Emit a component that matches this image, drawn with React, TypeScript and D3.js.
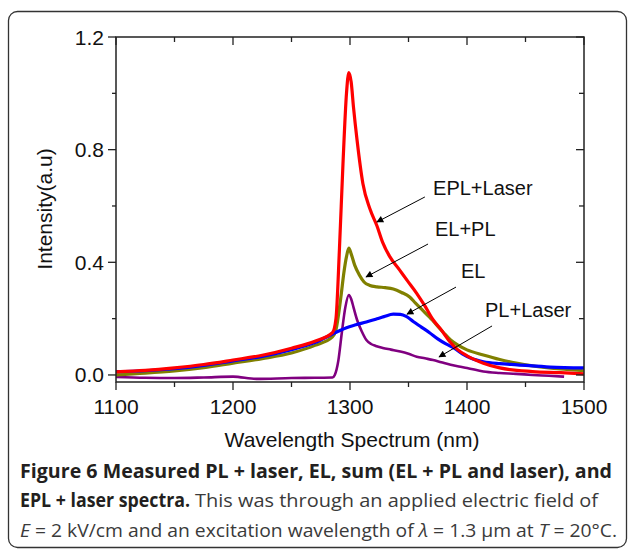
import React from "react";
import * as d3 from "d3";

// ---- Data ----
const xTicksMajor = [1100, 1200, 1300, 1400, 1500];
const xTicksMinor = [1150, 1250, 1350, 1450];
const yTicksMajor = [0, 0.4, 0.8, 1.2];
const yTicksMinor = [0.2, 0.6, 1.0];

const eplWl = [1100, 1125, 1150, 1175, 1200, 1225, 1250, 1270, 1285, 1288, 1291, 1294, 1297, 1299, 1301, 1303, 1306, 1311, 1317, 1323, 1328, 1334, 1342, 1349, 1357, 1364, 1371, 1378, 1385, 1392, 1400, 1414, 1428, 1456, 1480, 1500];
const eplVal = [0.011, 0.016, 0.025, 0.037, 0.053, 0.07, 0.095, 0.12, 0.15, 0.2, 0.45, 0.75, 1.0, 1.074, 1.04, 0.95, 0.835, 0.68, 0.59, 0.53, 0.47, 0.42, 0.375, 0.335, 0.29, 0.245, 0.196, 0.16, 0.12, 0.09, 0.068, 0.042, 0.025, 0.012, 0.008, 0.004];

const elplWl = [1100, 1125, 1150, 1175, 1200, 1225, 1250, 1270, 1285, 1288, 1292, 1295, 1297, 1299, 1301, 1304, 1308, 1312, 1317, 1323, 1330, 1337, 1344, 1351, 1356, 1362, 1368, 1374, 1380, 1386, 1393, 1400, 1414, 1428, 1442, 1456, 1470, 1485, 1500];
const elplVal = [0.0, 0.006, 0.014, 0.026, 0.042, 0.058, 0.078, 0.105, 0.135, 0.16, 0.27, 0.37, 0.42, 0.45, 0.43, 0.39, 0.355, 0.33, 0.318, 0.313, 0.31, 0.305, 0.293, 0.277, 0.255, 0.23, 0.205, 0.178, 0.15, 0.124, 0.104, 0.089, 0.071, 0.055, 0.042, 0.032, 0.025, 0.02, 0.015];

const elWl = [1100, 1125, 1150, 1175, 1200, 1225, 1250, 1270, 1285, 1290, 1297, 1305, 1314, 1322, 1329, 1337, 1343, 1348, 1354, 1361, 1368, 1375, 1382, 1389, 1396, 1403, 1414, 1428, 1443, 1471, 1500];
const elVal = [0.012, 0.015, 0.022, 0.034, 0.05, 0.066, 0.09, 0.115, 0.145, 0.155, 0.168, 0.178, 0.188, 0.198, 0.207, 0.216, 0.215, 0.208, 0.19, 0.17, 0.15, 0.128, 0.11, 0.095, 0.075, 0.06, 0.047, 0.04, 0.036, 0.028, 0.025];

const plWl = [1100, 1125, 1150, 1175, 1200, 1220, 1250, 1270, 1285, 1287, 1290, 1293, 1296, 1299, 1301, 1303, 1306, 1310, 1314, 1318, 1322, 1328, 1335, 1343, 1350, 1357, 1364, 1371, 1378, 1386, 1393, 1400, 1414, 1428, 1442, 1456, 1470, 1483];
const plVal = [-0.007, -0.01, -0.011, -0.009, -0.006, -0.014, -0.011, -0.01, -0.009, 0.0, 0.05, 0.15, 0.24, 0.284, 0.27, 0.24, 0.196, 0.155, 0.124, 0.11, 0.103, 0.096, 0.09, 0.083, 0.075, 0.065, 0.059, 0.053, 0.045, 0.036, 0.03, 0.025, 0.012, 0.007, 0.004, 0.0, -0.003, -0.006];

const seriesNames = ["PL+Laser", "EL+PL", "EL", "EPL+Laser"];
const seriesColors = ["#800080", "#808000", "#0000ff", "#ff0000"];

// annotations: label, text position (wavelength, value), arrow start, arrow end
const annoLabels = ["EPL+Laser", "EL+PL", "EL", "PL+Laser"];
const annoText = [[1371, 0.639], [1372.6, 0.493], [1394.9, 0.344], [1415.4, 0.206]];
const annoFrom = [[1364, 0.632], [1366.7, 0.465], [1390.6, 0.312], [1421.4, 0.174]];
const annoTo = [[1323, 0.543], [1313.7, 0.348], [1348.7, 0.216], [1376.1, 0.064]];

export default function App() {
  const W = 629, H = 550;
  const x = d3.scaleLinear().domain([1100, 1500]).range([116, 584]);
  const y = d3.scaleLinear().domain([-0.025, 1.2]).range([382, 37]);

  const line = d3
    .line<[number, number]>()
    .x((d) => x(d[0]))
    .y((d) => y(d[1]))
    .curve(d3.curveMonotoneX);

  const series = [
    { wl: plWl, v: plVal, w: 2.6 },
    { wl: elplWl, v: elplVal, w: 3.2 },
    { wl: elWl, v: elVal, w: 3.2 },
    { wl: eplWl, v: eplVal, w: 3.2 },
  ];

  const axisColor = "#222";
  const font = "Liberation Sans, Arial, sans-serif";
  const capFont = "'Open Sans', 'Noto Sans', sans-serif";

  return (
    <svg
      width={W}
      height={H}
      style={{ position: "absolute", left: 0, top: 0, background: "#fff" }}
    >
      <defs>
        <marker id="ah" viewBox="0 0 10 10" refX="9" refY="5" markerWidth="9" markerHeight="7" orient="auto" markerUnits="userSpaceOnUse">
          <path d="M0,0 L10,5 L0,10 z" fill="#000" />
        </marker>
      </defs>
      <rect x={8.5} y={11.5} width={618} height={536} rx={9} ry={9} fill="none" stroke="#333" strokeWidth={1.3} />

      {/* series */}
      <g>
        {series.map((s, i) => (
          <path
            key={seriesNames[i]}
            d={line(s.wl.map((w, j) => [w, s.v[j]] as [number, number])) || ""}
            fill="none"
            stroke={seriesColors[i]}
            strokeWidth={s.w}
            strokeLinejoin="round"
          />
        ))}
      </g>

      {/* frame */}
      <rect x={116} y={37} width={468} height={345} fill="none" stroke={axisColor} strokeWidth={1.5} />

      {/* x ticks */}
      {xTicksMajor.map((t) => (
        <g key={"xM" + t}>
          <line x1={x(t)} x2={x(t)} y1={382} y2={390} stroke={axisColor} strokeWidth={1.3} />
          <line x1={x(t)} x2={x(t)} y1={37} y2={45} stroke={axisColor} strokeWidth={1.3} />
          <text x={x(t)} y={414} textAnchor="middle" fontFamily={font} fontSize={21} fill="#111">
            {t}
          </text>
        </g>
      ))}
      {xTicksMinor.map((t) => (
        <g key={"xm" + t}>
          <line x1={x(t)} x2={x(t)} y1={382} y2={387} stroke={axisColor} strokeWidth={1.3} />
          <line x1={x(t)} x2={x(t)} y1={37} y2={42} stroke={axisColor} strokeWidth={1.3} />
        </g>
      ))}
      {/* y ticks */}
      {yTicksMajor.map((t) => (
        <g key={"yM" + t}>
          <line x1={108} x2={116} y1={y(t)} y2={y(t)} stroke={axisColor} strokeWidth={1.3} />
          <line x1={576} x2={584} y1={y(t)} y2={y(t)} stroke={axisColor} strokeWidth={1.3} />
          <text x={104} y={y(t) + 7.5} textAnchor="end" fontFamily={font} fontSize={21} fill="#111">
            {t.toFixed(1)}
          </text>
        </g>
      ))}
      {yTicksMinor.map((t) => (
        <g key={"ym" + t}>
          <line x1={112} x2={116} y1={y(t)} y2={y(t)} stroke={axisColor} strokeWidth={1.3} />
          <line x1={579} x2={584} y1={y(t)} y2={y(t)} stroke={axisColor} strokeWidth={1.3} />
        </g>
      ))}

      {/* axis titles */}
      <text x={352} y={447} textAnchor="middle" fontFamily={font} fontSize={21} fill="#111">
        Wavelength Spectrum (nm)
      </text>
      <text
        transform={`translate(52,209) rotate(-90)`}
        textAnchor="middle"
        fontFamily={font}
        fontSize={21}
        fill="#111"
      >
        Intensity(a.u)
      </text>

      {/* annotations */}
      {annoLabels.map((lab, i) => (
        <g key={lab}>
          <text x={x(annoText[i][0])} y={y(annoText[i][1])} fontFamily={font} fontSize={20} fill="#111">
            {lab}
          </text>
          <line
            x1={x(annoFrom[i][0])}
            y1={y(annoFrom[i][1])}
            x2={x(annoTo[i][0])}
            y2={y(annoTo[i][1])}
            stroke="#000"
            strokeWidth={1}
            markerEnd="url(#ah)"
          />
        </g>
      ))}

      {/* caption */}
      <text x={20} y={478} fontFamily={capFont} fontSize={19} fontWeight="bold" fill="#231f20" textLength={592} lengthAdjust="spacingAndGlyphs">
        Figure 6 Measured PL + laser, EL, sum (EL + PL and laser), and
      </text>
      <text x={20} y={507} fontFamily={capFont} fontSize={19} fontWeight="bold" fill="#231f20" textLength={170} lengthAdjust="spacingAndGlyphs">
        EPL + laser spectra.
      </text>
      <text x={195} y={507} fontFamily={capFont} fontSize={19} fill="#3a3a3a" textLength={403} lengthAdjust="spacingAndGlyphs">
        This was through an applied electric field of
      </text>
      <text x={20} y={537} fontFamily={capFont} fontSize={19} fill="#3a3a3a" textLength={597} lengthAdjust="spacingAndGlyphs">
        <tspan fontStyle="italic">E</tspan> = 2 kV/cm and an excitation wavelength of <tspan fontStyle="italic">λ</tspan> = 1.3 μm at <tspan fontStyle="italic">T</tspan> = 20°C.
      </text>
    </svg>
  );
}
